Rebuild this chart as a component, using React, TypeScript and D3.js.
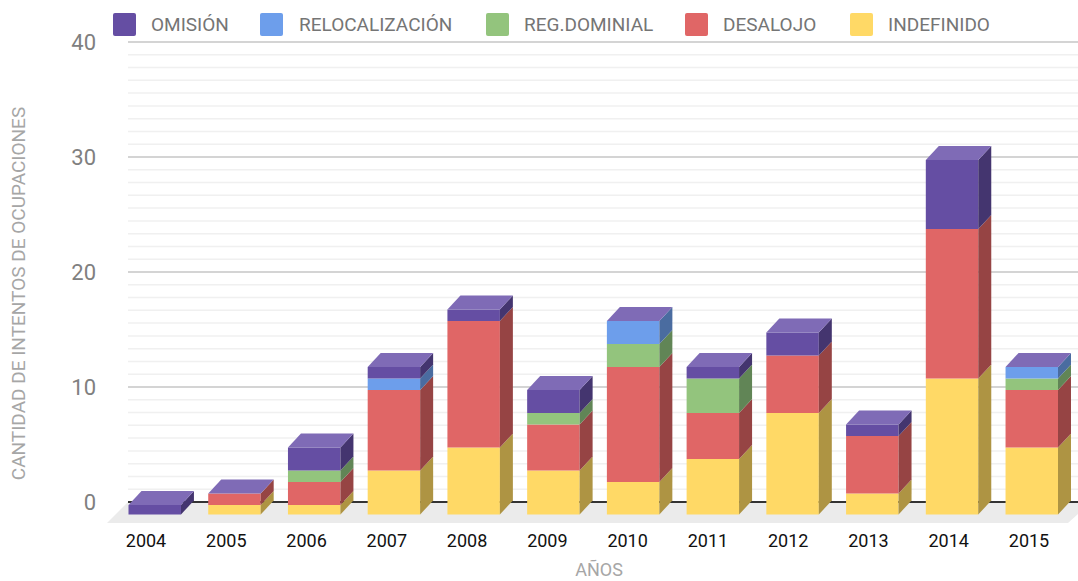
import React from "react";
import * as d3 from "d3";

const years = ["2004","2005","2006","2007","2008","2009","2010","2011","2012","2013","2014","2015"];
const indefinido = [0,1,1,4,6,4,3,5,9,2,12,6];
const desalojo = [0,1,2,7,11,4,10,4,5,5,13,5];
const regDominial = [0,0,1,0,0,1,2,3,0,0,0,1];
const relocalizacion = [0,0,0,1,0,0,2,0,0,0,0,1];
const omision = [1,0,2,1,1,2,0,1,2,1,6,0];
const yTicks = [0,10,20,30,40];

const seriesNames = ["INDEFINIDO","DESALOJO","REG.DOMINIAL","RELOCALIZACIÓN","OMISIÓN"];
const seriesValues = [indefinido,desalojo,regDominial,relocalizacion,omision];
const frontColors = ["#ffd966","#e06666","#93c47d","#6d9eeb","#654ea3"];
const sideColors = ["#ae9443","#964444","#618556","#4a6ca0","#44356f"];
const topColor = "#7f6bb6";
const legendOrder = [4,3,2,1,0];
const legendSwatchX = [113,260,486,685,850];
const legendTextX = [151,299,524,723,888];

const W = 1078, H = 581;
const dx = 13, dy = 14;
const baseY = 514.5;
const font = "Roboto, sans-serif";

export default function App() {
  const yBack = d3.scaleLinear().domain([0,40]).range([502,42]);
  const yFront = (v: number) => Math.min(yBack(v) + 14.5, baseY);
  const x = d3.scaleBand<string>().domain(years).range([128.5,1058]).paddingInner(0.342).paddingOuter(0);
  const xLabel = d3.scalePoint<string>().domain(years).range([146,1029]);
  const minor = d3.range(0,36).map(i => i*10/9).filter(v => v < 40 && Math.abs(v/10 - Math.round(v/10)) > 0.01);
  const poly = (pts: number[][]) => pts.map(p => p.join(",")).join(" ");

  return (
    <svg width={W} height={H} viewBox={`0 0 ${W} ${H}`} style={{position:"absolute",left:0,top:0,background:"#fff"}}>
      <rect x={0} y={0} width={W} height={H} fill="#fff"/>
      {minor.map((v,i)=><line key={i} x1={128} x2={W} y1={yBack(v)} y2={yBack(v)} stroke="#f0f0f0" strokeWidth={1.5}/>)}
      {yTicks.filter(t=>t>0).map(t=><line key={t} x1={128} x2={W} y1={yBack(t)} y2={yBack(t)} stroke="#c6c6c6" strokeWidth={1.5}/>)}
      <polygon points={poly([[107,523],[128,502],[W,502],[W,514],[1068,523]])} fill="#ebebeb"/>
      <line x1={128} x2={W} y1={yBack(0)} y2={yBack(0)} stroke="#333" strokeWidth={2}/>
      {yTicks.map(t=><text key={t} x={96} y={yBack(t)+8} textAnchor="end" fontFamily={font} fontSize={22} fill="#808080">{t}</text>)}
      {years.map((yr,i)=>{
        const x0 = x(yr)!, w = x.bandwidth();
        let cum = 0;
        const segs = seriesValues.map((vals,s)=>{
          const a = cum; cum += vals[i];
          return {s,a,b:cum};
        });
        const yt = yFront(cum);
        return <g key={yr}>
          {segs.filter(g=>g.b>g.a).map(g=>{
            const y1 = yFront(g.b), y0 = yFront(g.a);
            return <g key={g.s}>
              <rect x={x0} y={y1} width={w} height={y0-y1} fill={frontColors[g.s]}/>
              <polygon points={poly([[x0+w,y1],[x0+w+dx,y1-dy],[x0+w+dx,y0-dy],[x0+w,y0]])} fill={sideColors[g.s]}/>
            </g>;
          })}
          <polygon points={poly([[x0,yt],[x0+dx,yt-dy],[x0+w+dx,yt-dy],[x0+w,yt]])} fill={topColor}/>
        </g>;
      })}
      {years.map(yr=><text key={yr} x={xLabel(yr)} y={547} textAnchor="middle" fontFamily={font} fontSize={18} fill="#111">{yr}</text>)}
      {legendOrder.map((s,i)=><g key={s}>
        <rect x={legendSwatchX[i]} y={13} width={23} height={23} rx={2} fill={frontColors[s]}/>
        <text x={legendTextX[i]} y={31} fontFamily={font} fontSize={19} fill="#757575">{seriesNames[s]}</text>
      </g>)}
      <text transform="translate(25,293.5) rotate(-90)" textAnchor="middle" fontFamily={font} fontSize={19} fill="#a6a6a6">CANTIDAD DE INTENTOS DE OCUPACIONES</text>
      <text x={599} y={576} textAnchor="middle" fontFamily={font} fontSize={18} fill="#a6a6a6">AÑOS</text>
    </svg>
  );
}
